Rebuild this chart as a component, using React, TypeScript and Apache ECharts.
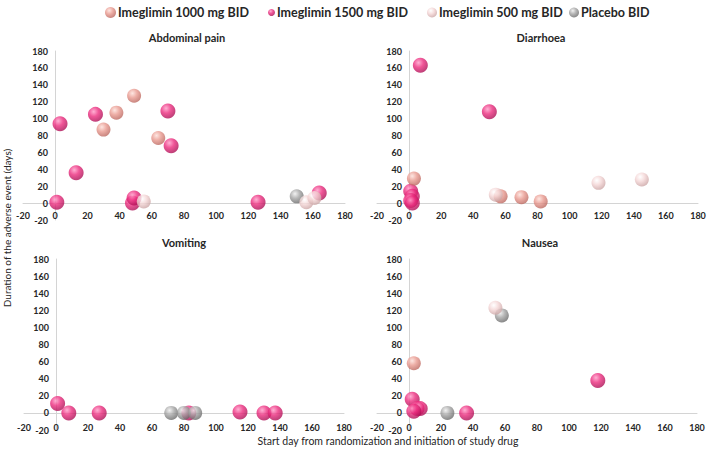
import React, { useEffect, useRef } from "react";
import * as echarts from "echarts";

const groups = ["Imeglimin 1000 mg BID", "Imeglimin 1500 mg BID", "Imeglimin 500 mg BID", "Placebo BID"];
const panels = ["Abdominal pain", "Diarrhoea", "Vomiting", "Nausea"];
const axisTicks = [-20, 0, 20, 40, 60, 80, 100, 120, 140, 160, 180];

// [start day, duration]
const abdominal1000 = [[30, 87], [38, 107], [49, 127], [64, 77]];
const abdominal1500 = [[1, 1], [3, 94], [13, 36], [25, 105], [70, 109], [72, 68], [48, 0], [49, 6], [126, 1], [164, 12]];
const abdominal500 = [[55, 2], [156, 1], [161, 6]];
const abdominalPlacebo = [[150, 8]];

const diarrhoea1000 = [[3, 29], [57, 8], [70, 7], [82, 2]];
const diarrhoea1500 = [[7, 163], [50, 108], [1, 14], [2, 8], [1, 3], [2, 0]];
const diarrhoea500 = [[54, 10], [118, 24], [145, 28]];
const diarrhoeaPlacebo: number[][] = [];

const vomiting1000: number[][] = [];
const vomiting1500 = [[1, 11], [8, 0], [27, 0], [83, 0], [115, 1], [130, 0], [137, 0]];
const vomiting500: number[][] = [];
const vomitingPlacebo = [[72, 0], [80, 0], [87, 0]];

const nausea1000 = [[3, 58]];
const nausea1500 = [[2, 16], [5, 5], [7, 5], [3, 2], [118, 38], [36, 0]];
const nausea500 = [[54, 123]];
const nauseaPlacebo = [[58, 114], [24, 0]];

const panelData = [
  [abdominal1000, abdominal1500, abdominal500, abdominalPlacebo],
  [diarrhoea1000, diarrhoea1500, diarrhoea500, diarrhoeaPlacebo],
  [vomiting1000, vomiting1500, vomiting500, vomitingPlacebo],
  [nausea1000, nausea1500, nausea500, nauseaPlacebo],
];

const FONT = "Lato, 'DejaVu Sans', sans-serif";

const ball = (hi: string, mid: string, edge: string) => ({
  type: "radial",
  x: 0.38,
  y: 0.32,
  r: 0.72,
  colorStops: [
    { offset: 0, color: hi },
    { offset: 0.45, color: mid },
    { offset: 1, color: edge },
  ],
});

const groupColors = [
  ball("#fde0da", "#e99a90", "#b8645c"),
  ball("#ff9cc8", "#ec2c7e", "#a80d52"),
  ball("#ffffff", "#f4d6d6", "#c9a2a2"),
  ball("#eeeeee", "#a6a6a6", "#666666"),
];
const groupSizes = [14, 15, 14, 14];

const legendLayout = [
  { left: 100, size: 11 },
  { left: 263, size: 7 },
  { left: 422, size: 10 },
  { left: 564, size: 10 },
];

const grids = [
  { left: 23, top: 51, width: 322, height: 169 },
  { left: 377, top: 51, width: 321, height: 169 },
  { left: 24, top: 259, width: 320, height: 171 },
  { left: 377, top: 259, width: 320, height: 171 },
];
const xLabelMargins = [-9, -9, -7, -7];
const titlePos = [
  { x: 187, y: 37 },
  { x: 541, y: 37 },
  { x: 184, y: 242 },
  { x: 540, y: 242 },
];

export default function App() {
  const ref = useRef<HTMLDivElement>(null);
  useEffect(() => {
    if (!ref.current) return;
    const chart = echarts.init(ref.current, null, { renderer: "svg" });
    const labelStyle = { fontFamily: FONT, fontWeight: "bold", fontSize: 9, color: "#262626" };
    const axisCommon = {
      type: "value",
      min: axisTicks[0],
      max: axisTicks[axisTicks.length - 1],
      interval: axisTicks[1] - axisTicks[0],
      axisLine: { onZero: true, lineStyle: { color: "#d4d4d4", width: 1 } },
      axisTick: { show: false },
      splitLine: { show: false },
    };
    const xAxis = grids.map((_, i) => ({ ...axisCommon, gridIndex: i, axisLabel: { ...labelStyle, margin: xLabelMargins[i] } }));
    const yAxis = grids.map((_, i) => ({ ...axisCommon, gridIndex: i, axisLabel: { ...labelStyle, margin: -25 } }));
    const order = [1, 0, 3, 2];
    const series: any[] = [];
    panelData.forEach((pd, p) => {
      order.forEach((g) => {
        series.push({
          type: "scatter",
          name: groups[g],
          xAxisIndex: p,
          yAxisIndex: p,
          data: pd[g],
          symbol: "circle",
          symbolSize: groupSizes[g],
          itemStyle: { color: groupColors[g] },
        });
      });
    });
    const graphic: any[] = panels.map((t, i) => ({
      type: "text",
      x: titlePos[i].x,
      y: titlePos[i].y,
      style: {
        text: t,
        font: `bold 11px ${FONT}`,
        fill: "#262626",
        textAlign: "center",
        textVerticalAlign: "middle",
      },
    }));
    graphic.push({
      type: "text",
      x: 7,
      y: 228,
      rotation: Math.PI / 2,
      style: {
        text: "Duration of the adverse event (days)",
        font: `10px ${FONT}`,
        fill: "#262626",
        textAlign: "center",
        textVerticalAlign: "middle",
      },
    });
    graphic.push({
      type: "text",
      x: 388,
      y: 441,
      style: {
        text: "Start day from randomization and initiation of study drug",
        font: `10.5px ${FONT}`,
        fill: "#262626",
        textAlign: "center",
        textVerticalAlign: "middle",
      },
    });
    const legend = groups.map((g, i) => ({
      data: [g],
      top: 1,
      left: legendLayout[i].left,
      itemWidth: legendLayout[i].size,
      itemHeight: legendLayout[i].size,
      icon: "circle",
      textStyle: { fontFamily: FONT, fontWeight: "bold", fontSize: 12.5, color: "#262626", padding: [0, 0, 0, -3] },
    }));
    chart.setOption({
      animation: false,
      backgroundColor: "#ffffff",
      legend,
      grid: grids,
      xAxis,
      yAxis,
      series,
      graphic,
    });
    return () => chart.dispose();
  }, []);
  return <div ref={ref} style={{ position: "fixed", left: 0, top: 0, width: 709, height: 453 }} />;
}
